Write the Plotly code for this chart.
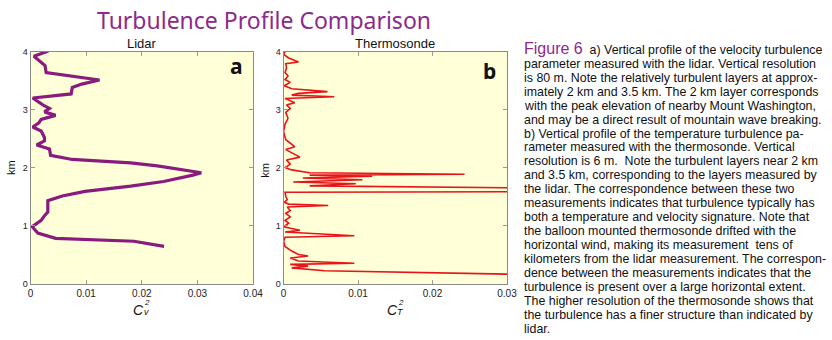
import plotly.graph_objects as go

# ---- data ----
lidar_cv2 = [0.0032, 0.0006, 0.0026, 0.0028, 0.0028, 0.0124, 0.0092, 0.0075, 0.0073, 0.0004,
             0.0022, 0.0034, 0.0025, 0.0045, 0.0019, 0.0015, 0.0004, 0.0019, 0.0025, 0.0025,
             0.0011, 0.0034, 0.0036, 0.0075, 0.0180, 0.0228, 0.0307, 0.0292, 0.0239, 0.0180,
             0.0098, 0.0057, 0.0034, 0.0031, 0.0031, 0.0025, 0.0019, 0.0003, 0.0013, 0.0045,
             0.0186, 0.0240]
lidar_km = [4.01, 3.92, 3.76, 3.68, 3.64, 3.51, 3.44, 3.38, 3.27, 3.20,
            3.08, 3.02, 2.96, 2.90, 2.83, 2.77, 2.70, 2.63, 2.52, 2.46,
            2.39, 2.32, 2.21, 2.14, 2.08, 2.03, 1.91, 1.87, 1.76, 1.68,
            1.59, 1.51, 1.45, 1.43, 1.23, 1.17, 1.09, 0.98, 0.87, 0.78,
            0.73, 0.64]

thermo_ct2 = [0.0002, 0.0000, 0.0007, 0.0020, 0.0003, 0.0004, 0.0002, 0.0006, 0.0002, 0.0009,
              0.0001, 0.0011, 0.0059, 0.0020, 0.0011, 0.0068, 0.0002, 0.0015, 0.0004, 0.0009,
              0.0003, 0.0006, 0.0002, 0.0000, 0.0003, 0.0015, 0.0003, 0.0011, 0.0022, 0.0004,
              0.0009, 0.0002, 0.0011, 0.0035, 0.0243, 0.0035, 0.0119, 0.0026, 0.0106, 0.0013,
              0.0097, 0.0035, 0.0350, 0.0350, 0.0002, 0.0003, 0.0005, 0.0001, 0.0007, 0.0060,
              0.0005, 0.0009, 0.0003, 0.0009, 0.0002, 0.0007, 0.0000, 0.0022, 0.0002, 0.0095,
              0.0002, 0.0000, 0.0002, 0.0011, 0.0020, 0.0033, 0.0009, 0.0020, 0.0095, 0.0009,
              0.0033, 0.0011, 0.0055, 0.0350]
thermo_km = [4.00, 3.95, 3.89, 3.82, 3.79, 3.72, 3.64, 3.58, 3.52, 3.47,
             3.41, 3.36, 3.31, 3.28, 3.25, 3.22, 3.19, 3.12, 3.08, 3.02,
             2.95, 2.85, 2.75, 2.62, 2.48, 2.36, 2.31, 2.25, 2.18, 2.13,
             2.06, 2.00, 1.96, 1.91, 1.885, 1.87, 1.85, 1.82, 1.79, 1.75,
             1.72, 1.685, 1.645, 1.585, 1.575, 1.50, 1.45, 1.40, 1.37, 1.345,
             1.32, 1.26, 1.21, 1.15, 1.09, 1.04, 0.98, 0.92, 0.89, 0.825,
             0.80, 0.73, 0.64, 0.56, 0.50, 0.475, 0.44, 0.39, 0.35, 0.33,
             0.30, 0.27, 0.22, 0.15]

y_ticks = [0, 1, 2, 3, 4]
x_ticks_a = [0, 0.01, 0.02, 0.03, 0.04]
x_ticks_b = [0, 0.01, 0.02, 0.03]

caption_lines = [
    "a) Vertical profile of the velocity turbulence",
    "parameter measured with the lidar. Vertical resolution",
    "is 80 m. Note the relatively turbulent layers at approx-",
    "imately 2 km and 3.5 km. The 2 km layer corresponds",
    "with the peak elevation of nearby Mount Washington,",
    "and may be a direct result of mountain wave breaking.",
    "b) Vertical profile of the temperature turbulence pa-",
    "rameter measured with the thermosonde. Vertical",
    "resolution is 6 m.  Note the turbulent layers near 2 km",
    "and 3.5 km, corresponding to the layers measured by",
    "the lidar. The correspondence between these two",
    "measurements indicates that turbulence typically has",
    "both a temperature and velocity signature. Note that",
    "the balloon mounted thermosonde drifted with the",
    "horizontal wind, making its measurement  tens of",
    "kilometers from the lidar measurement. The correspon-",
    "dence between the measurements indicates that the",
    "turbulence is present over a large horizontal extent.",
    "The higher resolution of the thermosonde shows that",
    "the turbulence has a finer structure than indicated by",
    "lidar.",
]

W, H = 832, 340
PURPLE = "#8C2A8C"
BG = "#FFFFD8"

fig = go.Figure()
fig.add_trace(go.Scatter(x=lidar_cv2, y=lidar_km, mode="lines",
                         line=dict(color="#8A1B7E", width=3.2), xaxis="x", yaxis="y",
                         showlegend=False, hoverinfo="skip"))
fig.add_trace(go.Scatter(x=thermo_ct2, y=thermo_km, mode="lines",
                         line=dict(color="#E8141A", width=1.6), xaxis="x2", yaxis="y2",
                         showlegend=False, hoverinfo="skip"))

def px_x(p):
    return p / W

def px_y(p):
    return 1 - p / H

ax_common = dict(showgrid=False, zeroline=False, ticks="inside", ticklen=4, tickcolor="#999",
                 mirror="ticks", showline=True, linecolor="#8a8a8a", linewidth=1,
                 tickfont=dict(family="Liberation Sans, Arial", size=10, color="#222"))

fig.update_layout(
    width=W, height=H, margin=dict(l=0, r=0, t=0, b=0),
    paper_bgcolor="white", plot_bgcolor=BG,
    xaxis=dict(domain=[px_x(28), px_x(254)], range=[0, 0.04], tickvals=x_ticks_a,
               ticktext=["0", "0.01", "0.02", "0.03", "0.04"], anchor="y", **ax_common),
    yaxis=dict(domain=[px_y(287), px_y(48)], range=[0, 4], tickvals=y_ticks,
               ticktext=[str(v) for v in y_ticks], anchor="x", **ax_common),
    xaxis2=dict(domain=[px_x(285), px_x(512)], range=[0, 0.03], tickvals=x_ticks_b,
                ticktext=["0", "0.01", "0.02", "0.03"], anchor="y2", **ax_common),
    yaxis2=dict(domain=[px_y(287), px_y(48)], range=[0, 4], tickvals=y_ticks,
                ticktext=[str(v) for v in y_ticks], anchor="x2", **ax_common),
)
fig.update_yaxes(tickfont=dict(size=9))

ann = []
def add_text(text, x, y, size, color="#111", family="Liberation Sans, Arial", xanchor="center",
             yanchor="middle", textangle=0):
    ann.append(dict(text=text, x=px_x(x), y=px_y(y), xref="paper", yref="paper",
                    showarrow=False, xanchor=xanchor, yanchor=yanchor,
                    font=dict(size=size, color=color, family=family), textangle=textangle))

add_text("Turbulence Profile Comparison", 265, 15, 23, color=PURPLE, family="Noto Sans")
add_text("Lidar", 141, 40, 13)
add_text("Thermosonde", 398, 40, 13)
add_text("<b>a</b>", 237, 63, 21, family="Noto Sans")
add_text("<b>b</b>", 494, 68, 21, family="Noto Sans")
add_text("km", 8, 167, 11, textangle=-90)
add_text("km", 266, 170, 11, textangle=-90)
# x-axis titles: C with stacked super/subscripts
add_text("<i>C</i>", 138, 314, 14)
add_text("<i>2</i>", 146, 306, 8)
add_text("<i>v</i>", 146, 316, 9)
add_text("<i>C</i>", 396, 314, 14)
add_text("<i>2</i>", 404, 306, 8)
add_text("<i>T</i>", 404, 316, 9)

# caption
for i, line in enumerate(caption_lines):
    y = 46 + 14.4 * i
    if i == 0:
        line = ("<span style='font-size:16px;color:%s'>Figure 6</span>  " % PURPLE) + line
        y -= 1
    add_text(line, 527, y, 12.4, xanchor="left")

fig.update_layout(annotations=ann)
fig.write_html("out.html")
